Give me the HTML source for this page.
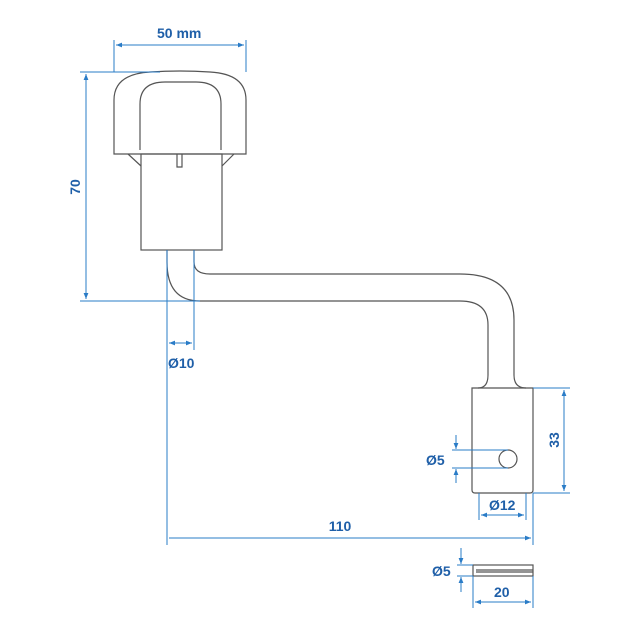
<!DOCTYPE html>
<html><head><style>body{margin:0;background:#fff}svg{display:block}text{font-family:"Liberation Sans",sans-serif;font-weight:bold;font-size:14px;fill:#1f5fa8}</style></head><body>
<svg width="640" height="640" viewBox="0 0 640 640" xmlns="http://www.w3.org/2000/svg">
<defs><marker id="a" viewBox="0 0 10 10" refX="10" refY="5" markerWidth="8" markerHeight="6" orient="auto-start-reverse"><path d="M0,1L10,5L0,9z" fill="#2a7cc7"/></marker></defs>
<g fill="none" stroke="#555" stroke-width="1.2">
<path d="M114,154 L114,100 Q114,74 150,72 Q180,70 210,72 Q246,74 246,100 L246,154 Z"/>
<path d="M140,150 L140,104 Q140,82 165,82 L196,82 Q221,82 221,104 L221,150"/>
<path d="M128,154 L141,166 M234,154 L222,166"/>
<rect x="141" y="154" width="81" height="96"/>
<path d="M177,154 L177,167 L182,167 L182,154"/>
<path d="M167,250 L167,262 Q167,301 200,301 L460,301 Q488,301 488,325 L488,375 Q488,388 478,388"/>
<path d="M194,250 L194,262 Q194,274 210,274 L460,274 Q514,274 514,320 L514,375 Q514,388 526,388"/>
<path d="M472,388 L533,388 L533,490 Q533,493 530,493 L475,493 Q472,493 472,490 Z"/>
<circle cx="508" cy="459" r="9"/>
<rect x="473" y="565" width="60" height="11"/>
<path d="M476,570 L533,570 M476,572 L533,572"/>
</g>
<g stroke="#2a7cc7" stroke-width="1" fill="none">
<path d="M114,40 L114,72 M246,40 L246,72"/>
<line x1="116" y1="45" x2="244" y2="45" marker-start="url(#a)" marker-end="url(#a)"/>
<path d="M80,72 L160,72 M80,301 L200,301"/>
<line x1="86" y1="74" x2="86" y2="299" marker-start="url(#a)" marker-end="url(#a)"/>
<path d="M167,250 L167,545 M194,250 L194,350"/>
<line x1="169" y1="343" x2="192" y2="343" marker-start="url(#a)" marker-end="url(#a)"/>
<line x1="169" y1="538" x2="531" y2="538" marker-end="url(#a)"/>
<path d="M533,493 L533,545 M533,388 L570,388 M533,493 L570,493"/>
<line x1="564" y1="390" x2="564" y2="491" marker-start="url(#a)" marker-end="url(#a)"/>
<path d="M479,493 L479,520 M526,493 L526,520"/>
<line x1="481" y1="515" x2="524" y2="515" marker-start="url(#a)" marker-end="url(#a)"/>
<path d="M452,450 L508,450 M452,468 L508,468"/>
<line x1="456" y1="435" x2="456" y2="449" marker-end="url(#a)"/>
<line x1="456" y1="483" x2="456" y2="469" marker-end="url(#a)"/>
<path d="M457,565 L473,565 M457,576 L473,576"/>
<line x1="461" y1="548" x2="461" y2="564" marker-end="url(#a)"/>
<line x1="461" y1="592" x2="461" y2="577" marker-end="url(#a)"/>
<path d="M473,576 L473,608 M533,576 L533,608"/>
<line x1="475" y1="602" x2="531" y2="602" marker-start="url(#a)" marker-end="url(#a)"/>
</g>
<text x="157" y="38">50 mm</text>
<text x="80" y="187" transform="rotate(-90 80 187)" text-anchor="middle">70</text>
<text x="168" y="368">Ø10</text>
<text x="340" y="531" text-anchor="middle">110</text>
<text x="559" y="440" transform="rotate(-90 559 440)" text-anchor="middle">33</text>
<text x="489" y="510">Ø12</text>
<text x="426" y="465">Ø5</text>
<text x="432" y="576">Ø5</text>
<text x="494" y="597">20</text>
</svg></body></html>
